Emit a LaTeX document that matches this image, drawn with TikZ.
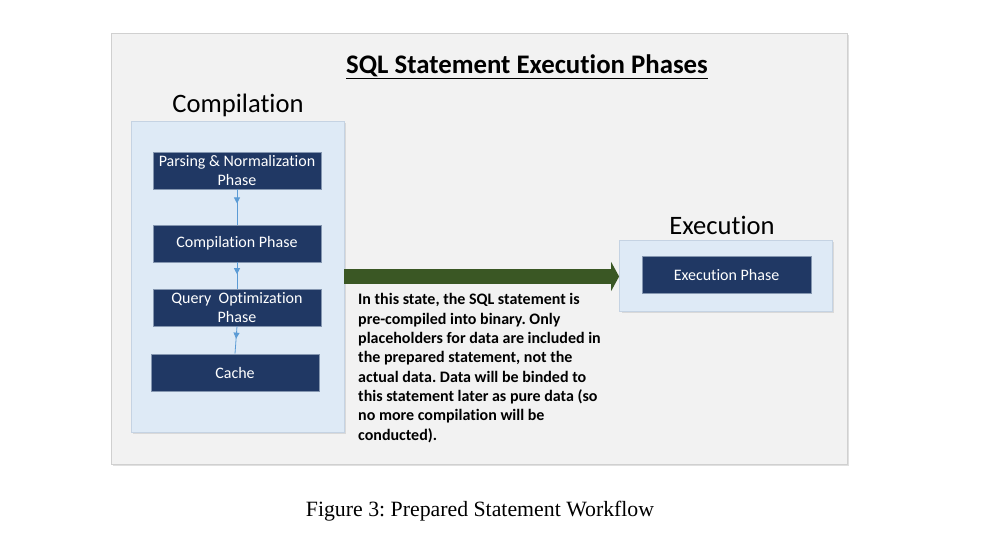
\documentclass[tikz,border=0pt]{standalone}
\usepackage{fontspec}
\setmainfont{Carlito}[Ligatures=NoCommon]
\newfontfamily\capfont{Liberation Serif}
\usetikzlibrary{arrows.meta,decorations.markings}
\frenchspacing
\definecolor{panelgray}{HTML}{F2F2F2}
\definecolor{panelborder}{HTML}{D0D0D0}
\definecolor{lightblue}{HTML}{DEEAF6}
\definecolor{lbborder}{HTML}{C5D3E3}
\definecolor{navy}{HTML}{203864}
\definecolor{navyborder}{HTML}{8496B0}
\definecolor{linkblue}{HTML}{5B9BD5}
\definecolor{darkgreen}{HTML}{3A5724}
\tikzset{
  panel/.style={draw=panelborder, fill=panelgray, line width=0.8pt, inner sep=0pt},
  group/.style={draw=lbborder, fill=lightblue, line width=0.8pt, inner sep=0pt},
  phase/.style={draw=navyborder, fill=navy, line width=0.6pt, text=white, align=center,
    minimum width=168pt, minimum height=37pt, inner sep=0pt,
    font=\fontsize{16}{19}\selectfont},
  link/.style={draw=linkblue, line width=0.8pt, postaction={decorate},
    decoration={markings, mark=at position #1 with {\arrow{Triangle[length=6pt,width=6pt]}}}},
  heading/.style={font=\fontsize{26.6}{30}\selectfont, inner sep=0pt},
  bigarrow/.style={draw=darkgreen, line width=15pt, -{Triangle[length=8pt,width=29pt]}},
}
\begin{document}
\begin{tikzpicture}[x=1pt,y=-1pt]
\useasboundingbox (0,0) rectangle (991,550);
% outer panel
\fill[black!12] (113,35) rectangle (849,466);
\node[panel, minimum width=736pt, minimum height=431pt] (outer) at (479,248.5) {};
\node[inner sep=0pt, font=\fontsize{26.8}{30}\selectfont\bfseries] (title) at (527,66.5) {\underline{SQL Statement Execution Phases}};
% compilation group
\node[heading] (complabel) at (238,105.5) {Compilation};
\fill[black!15] (133,123) rectangle (346,434);
\node[group, minimum width=213pt, minimum height=311pt] (comp) at (237.5,276.5) {};
\node[phase] (p1) at (237,170.5) {Parsing \& Normalization\\Phase};
\node[phase] (p2) at (237,243.5) {Compilation Phase};
\node[phase] (p3) at (237,307.5) {Query\ \ Optimization\\Phase};
\node[phase] (p4) at (235,372.5) {Cache};
\draw[link=0.4] (p1.south) -- (p2.north);
\draw[link=0.45] (p2.south) -- (p3.north);
\draw[link=0.45] (p3.south) -- (p4.north);
% execution group
\node[heading] (execlabel) at (722,225) {Execution};
\fill[black!15] (622,242) rectangle (834,313);
\node[group, minimum width=213pt, minimum height=71pt] (exec) at (726,275.5) {};
\node[phase, minimum width=169pt] (ep) at (726.5,274.5) {Execution Phase};
% big arrow
\draw[bigarrow] (comp.east) -- (comp.east -| exec.west);
% note
\node[anchor=north west, inner sep=0pt, align=left,
  font=\fontsize{16}{19.3}\selectfont\bfseries] (note) at (358,293.5)
  {In this state, the SQL statement is\\
   pre-compiled into binary. Only\\
   placeholders for data are included in\\
   the prepared statement, not the\\
   actual data. Data will be binded to\\
   this statement later as pure data (so\\
   no more compilation will be\\
   conducted).};
% caption
\node[inner sep=0pt, font=\capfont\fontsize{21.8}{26}\selectfont] (caption) at (480,511) {Figure 3: Prepared Statement Workflow};
\end{tikzpicture}
\end{document}
